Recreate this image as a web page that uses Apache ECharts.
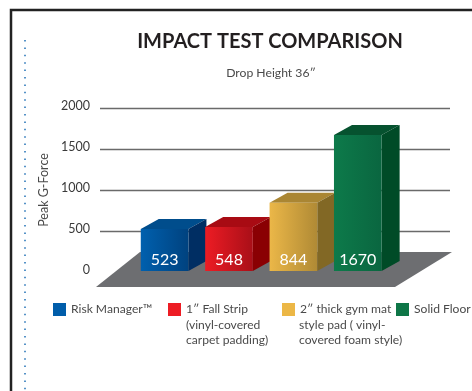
<!DOCTYPE html>
<html><head><meta charset="utf-8">
<style>html,body{margin:0;padding:0;background:#fff}#c{width:472px;height:391px}</style>
<script src="https://cdn.jsdelivr.net/npm/echarts@6/dist/echarts.min.js"></script>
</head><body><div id="c"></div>
<script>
const categories = ['Risk Manager\u2122', '1\u2033 Fall Strip', '2\u2033 thick gym mat', 'Solid Floor'];
const extraLines = [[], ['(vinyl-covered', 'carpet padding)'], ['style pad ( vinyl-', 'covered foam style)'], []];
const values = [523, 548, 844, 1670];
const yTicks = [0, 500, 1000, 1500, 2000];
const titleText = 'IMPACT TEST COMPARISON';
const subtitleText = 'Drop Height 36\u2033';
const yName = 'Peak G-Force';

const palette = [
  {key:'#005DAA', front:['#0060AE','#00427F'], top:'#004D8C', side:'#002E63'},
  {key:'#ED1C24', front:['#ED1C24','#A90F18'], top:'#A80B13', side:'#8A0003'},
  {key:'#ECB746', front:['#EBB748','#B08A35'], top:'#AA8633', side:'#826825'},
  {key:'#0E7647', front:['#0D7A4A','#0A6640'], top:'#06522F', side:'#004B27'}
];
const legendX = [53, 168, 282, 396];
const FONT = 'Lato';
const TEXT = '#4a4a4a';
const DX = 18, DY = 10;

function bar(i){
  return function(params, api){
    const base = api.coord([api.value(0), 0]);
    const top = api.coord([api.value(0), api.value(1)]);
    const w = api.size([1, 0])[0] * 0.74;
    const l = base[0] - w / 2, r = base[0] + w / 2, b = base[1] - 1, t = top[1];
    const c = palette[i];
    return {type:'group', children:[
      {type:'polygon', shape:{points:[[l,t],[l+DX,t-DY],[r+DX,t-DY],[r,t]]}, style:{fill:c.top}},
      {type:'polygon', shape:{points:[[r,t],[r+DX,t-DY],[r+DX,b-DY],[r,b]]}, style:{fill:c.side}},
      {type:'rect', shape:{x:l,y:t,width:w,height:b-t},
        style:{fill:new echarts.graphic.LinearGradient(0,0,1,0,[{offset:0,color:c.front[0]},{offset:1,color:c.front[1]}])}},
      {type:'text', style:{text:String(api.value(1)), x:base[0], y:b-11, align:'center', verticalAlign:'middle',
        fill:'#fff', font:'16px '+FONT}}
    ]};
  };
}

const graphics = [
  {type:'polygon', z:1, shape:{points:[[96,287],[395,287],[452,252],[140,252]]}, style:{fill:'#6D6E71'}},
  {type:'polyline', shape:{points:[[472,10],[11,10],[11,391]]}, style:{stroke:'#222',lineWidth:2.5,fill:null}},
  {type:'line', shape:{x1:25,y1:40,x2:25,y2:391}, style:{stroke:'#1F6FB5',lineWidth:1.5,lineDash:[1.5,5.9]}}
];
extraLines.forEach((lines,i)=>lines.forEach((s,j)=>{
  graphics.push({type:'text', style:{text:s, x:legendX[i]+ (i===1?18:17), y:325+15.5*j, verticalAlign:'middle',
    font:'12.1px '+FONT, fill:TEXT}});
}));

const option = {
  animation:false,
  backgroundColor:'#fff',
  title:[
    {text:titleText,left:265,top:27,textAlign:'center',textStyle:{fontFamily:FONT,fontWeight:'bold',fontSize:20,color:'#231F20'}},
    {text:subtitleText,left:266,top:62,textAlign:'center',textStyle:{fontFamily:FONT,fontWeight:'normal',fontSize:12.2,color:TEXT}}
  ],
  legend:categories.map((n,i)=>({
    data:[n], left:legendX[i], top:303, itemWidth:13, itemHeight:13, itemGap:0, padding:0,
    icon:'rect', selectedMode:false,
    textStyle:{fontFamily:FONT,fontSize:12.1,color:TEXT}
  })),
  grid:[
    {left:100,right:22,top:108,height:164},
    {left:132.4,width:257.6,top:108,height:164}
  ],
  xAxis:[
    {type:'value',gridIndex:0,min:0,max:1,show:false},
    {type:'category',gridIndex:1,data:categories,show:false}
  ],
  yAxis:[
    {type:'value',gridIndex:0,min:0,max:2000,interval:500,
      name:yName,nameLocation:'middle',nameGap:49,nameTextStyle:{fontFamily:FONT,fontSize:12.5,color:TEXT},
      axisLine:{show:false},axisTick:{show:false},
      axisLabel:{margin:10,fontFamily:FONT,fontSize:12.5,color:'#3a3a3a',verticalAlign:'bottom',lineHeight:5,
        formatter:v=>yTicks.includes(v)?String(v):''},
      splitLine:{show:true,showMinLine:false,lineStyle:{color:'#6A6A6A',width:1.3}}},
    {type:'value',gridIndex:1,min:0,max:2000,show:false,splitLine:{show:false}}
  ],
  graphic:graphics,
  series:categories.map((n,i)=>({
    name:n,type:'custom',coordinateSystem:'cartesian2d',xAxisIndex:1,yAxisIndex:1,z:3+i,clip:false,
    itemStyle:{color:palette[i].key},
    encode:{x:0,y:1},
    data:[[i,values[i]]],
    renderItem:bar(i)
  }))
};
echarts.init(document.getElementById('c'),null,{renderer:'canvas'}).setOption(option);
</script></body></html>
